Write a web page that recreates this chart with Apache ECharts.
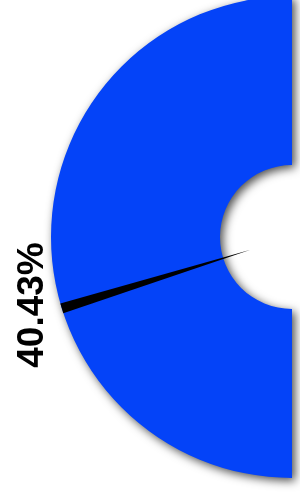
<!DOCTYPE html>
<html>
<head>
<meta charset="utf-8">
<script src="https://cdn.jsdelivr.net/npm/echarts@6/dist/echarts.min.js"></script>
<style>html,body{margin:0;padding:0;background:#fff}#main{width:300px;height:502px}</style>
</head>
<body>
<div id="main"></div>
<script>
var gaugeNames = ['完成率'];
var gaugeValues = [40.43];
var gaugeMin = 0;
var gaugeMax = 100;

var chart = echarts.init(document.getElementById('main'), null, {renderer: 'canvas'});
var labelText = gaugeValues[0].toFixed(2) + '%';
chart.setOption({
  animation: false,
  series: [{
    type: 'gauge',
    center: [292, 237],
    radius: 241,
    startAngle: 270,
    endAngle: 90,
    min: gaugeMin,
    max: gaugeMax,
    axisLine: {
      lineStyle: {
        width: 169,
        color: [[1, '#0443f8']],
        shadowBlur: 10,
        shadowOffsetX: 3,
        shadowOffsetY: 3,
        shadowColor: 'rgba(0,0,0,0.7)'
      }
    },
    splitLine: {show: false},
    axisTick: {show: false},
    axisLabel: {show: false},
    anchor: {show: false},
    pointer: {
      icon: 'path://M5,100 M0,0 L10,0 L5,82 Z',
      length: '100%',
      width: 10,
      itemStyle: {color: '#000'}
    },
    title: {show: false},
    detail: {show: false},
    data: gaugeValues.map(function (v, i) { return {value: v, name: gaugeNames[i]}; })
  }],
  graphic: [{
    type: 'text',
    x: 33,
    y: 305,
    rotation: Math.PI / 2,
    style: {
      text: labelText,
      fontFamily: 'Liberation Sans, Arial, sans-serif',
      fontWeight: 'bold',
      fontSize: 37,
      fill: '#000',
      align: 'center',
      verticalAlign: 'middle'
    }
  }]
});
</script>
</body>
</html>
